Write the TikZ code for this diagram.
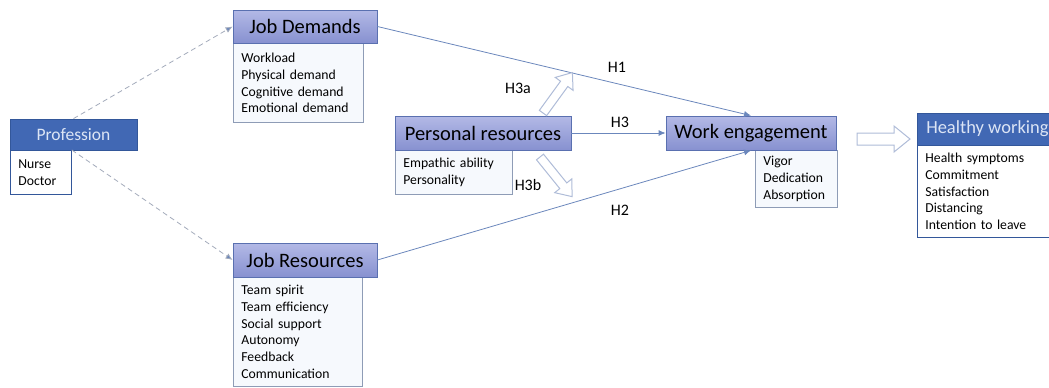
\documentclass[tikz,border=0pt]{standalone}
\usepackage{fontspec}
\setmainfont{Carlito}
\usetikzlibrary{arrows.meta,calc}

\definecolor{hdrtop}{HTML}{B3B9E6}
\definecolor{hdrbot}{HTML}{8791D0}
\definecolor{hdrline}{HTML}{5A70B0}
\definecolor{subfill}{HTML}{F6F9FD}
\definecolor{subline}{HTML}{8E9CB6}
\definecolor{darkfill}{HTML}{4168B4}
\definecolor{darkline}{HTML}{33579A}
\definecolor{darktext}{HTML}{DCE5F5}
\definecolor{linkblue}{HTML}{6B87BC}
\definecolor{dashgray}{HTML}{A3ABBB}
\definecolor{hollow}{HTML}{AFBCD8}

% hollow block arrow: x, y, angle, length, shaft half width, head half width, head length
\newcommand\hollowarrow[7]{%
  \begin{scope}[shift={(#1,#2)},rotate=#3]
    \draw[hollow,fill=white,line width=1pt,line join=miter]
      (0,-#5) -- ({#4-#7},-#5) -- ({#4-#7},-#6) -- (#4,0) -- ({#4-#7},#6)
      -- ({#4-#7},#5) -- (0,#5) -- cycle;
  \end{scope}}

\begin{document}
\begin{tikzpicture}[x=1pt,y=-1pt,
  hdr/.style={draw=hdrline,line width=0.8pt,top color=hdrtop,bottom color=hdrbot,
    text=black,font=\fontsize{20.5}{24}\selectfont,inner sep=0pt},
  darkhdr/.style={draw=darkline,line width=0.8pt,fill=darkfill,text=darktext,
    font=\fontsize{17.5}{21}\selectfont,inner sep=0pt},
  subbox/.style={draw=subline,line width=0.8pt,fill=subfill,anchor=north west,
    align=left,inner xsep=8pt,inner ysep=0pt,text=black,
    font=\fontsize{13.7}{16.8}\selectfont},
  link/.style={draw=linkblue,line width=0.8pt,-{Latex[length=7pt,width=6pt]}},
  dashlink/.style={draw=dashgray,line width=0.8pt,dash pattern=on 5pt off 3.5pt,
    -{Latex[length=7pt,width=6pt,fill=linkblue]}},
  hlabel/.style={font=\fontsize{16}{19}\selectfont,text=black,inner sep=0pt}]

\useasboundingbox (0,0) rectangle (1049,388);

% Profession
\node[subbox,text width=45pt,minimum height=44pt,fill=white,draw=darkline] (profsub) at (10,150) {Nurse\\Doctor};
\node[darkhdr,minimum width=127pt,minimum height=31pt] (prof) at (73.5,134.5) {Profession};

% Job demands
\node[subbox,text width=114pt,minimum height=79pt] (jdsub) at (233,43)
  {Workload\\Physical demand\\Cognitive demand\\Emotional demand};
\node[hdr,minimum width=144pt,minimum height=33pt] (jd) at (305,26.5) {Job Demands};

% Job resources
\node[subbox,text width=113pt,minimum height=109pt] (jrsub) at (233,277)
  {Team spirit\\Team efficiency\\Social support\\Autonomy\\Feedback\\Communication};
\node[hdr,minimum width=144pt,minimum height=34pt] (jr) at (305,260) {Job Resources};

% Personal resources
\node[subbox,text width=101pt,minimum height=44pt] (prsub) at (395,150)
  {Empathic ability\\Personality};
\node[hdr,minimum width=176pt,minimum height=34pt] (pr) at (483,133) {Personal resources};

% Work engagement
\node[subbox,text width=66pt,minimum height=57pt] (wesub) at (755,150)
  {Vigor\\Dedication\\Absorption};
\node[hdr,minimum width=170pt,minimum height=34pt] (we) at (751,133) {Work engagement};

% Healthy working (runs past the right edge)
\node[subbox,text width=124pt,minimum height=92pt,fill=white,draw=darkline] (hwsub) at (917,145)
  {Health symptoms\\Commitment\\Satisfaction\\Distancing\\Intention to leave};
\node[darkhdr,minimum width=140pt,minimum height=32pt,anchor=west,
  font=\fontsize{18.5}{22}\selectfont] (hw) at (917,129) {\hspace*{0pt}Healthy working};

% Connectors
\draw[dashlink] (prof.north) -- (jd.west);
\draw[dashlink] (profsub.north east) -- (jr.west);
\draw[link] (jd.east) -- (we.north);
\draw[link] (pr.east) -- (we.west);
\draw[link] (jr.east) -- (we.south);

% Moderation arrows
\hollowarrow{543}{113}{54}{50}{4.5}{11}{14}
\hollowarrow{540}{157}{-51}{51}{4.5}{11}{14}
\hollowarrow{857}{139}{0}{53}{6}{13}{16}

% Labels
\node[hlabel] (h1) at (617,67) {H1};
\node[hlabel] (h3a) at (518,88) {H3a};
\node[hlabel] (h3) at (620,122) {H3};
\node[hlabel] (h3b) at (528,185) {H3b};
\node[hlabel] (h2) at (620,210) {H2};
\end{tikzpicture}
\end{document}
